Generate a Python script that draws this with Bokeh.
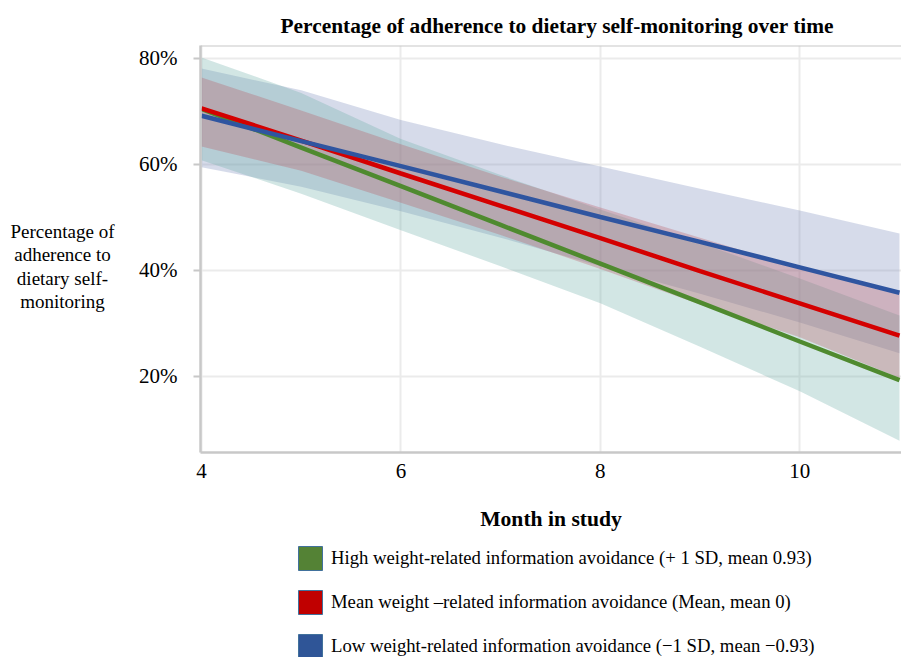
from bokeh.plotting import figure
from bokeh.layouts import column, row
from bokeh.models import (Range1d, FixedTicker, PrintfTickFormatter, Legend,
                          LegendItem, Span, Label)
from bokeh.embed import file_html
from bokeh.resources import INLINE

# ---------------- data ----------------
months = [4, 5, 6, 7, 8, 9, 10, 11]

high_mean = [70.5, 63.2, 55.9, 48.6, 41.3, 34.0, 26.6, 19.3]
high_upper = [80.2, 73.5, 64.8, 58.0, 51.5, 45.2, 38.5, 31.5]
high_lower = [60.8, 54.5, 47.6, 40.8, 33.8, 25.6, 17.2, 7.9]

mean_mean = [70.6, 64.5, 58.3, 52.2, 46.1, 39.9, 33.8, 27.7]
mean_upper = [76.4, 70.2, 63.8, 57.7, 51.9, 46.2, 40.5, 35.8]
mean_lower = [63.4, 58.8, 52.8, 46.7, 40.3, 33.6, 27.4, 19.7]

low_mean = [69.2, 64.4, 59.7, 54.9, 50.1, 45.4, 40.6, 35.8]
low_upper = [78.1, 74.0, 68.4, 63.8, 59.6, 55.4, 51.3, 47.0]
low_lower = [59.5, 55.8, 51.2, 46.2, 40.8, 35.6, 30.2, 24.4]

x_ticks = [4, 6, 8, 10]
y_ticks = [20, 40, 60, 80]

series_labels = [
    "High weight-related information avoidance (+ 1 SD, mean 0.93)",
    "Mean weight \u2013related information avoidance (Mean, mean 0)",
    "Low weight-related information avoidance (\u22121 SD, mean \u22120.93)",
]
title_text = "Percentage of adherence to dietary self-monitoring over time"
y_label_text = "Percentage of\nadherence to\ndietary self-\nmonitoring"
x_label_text = "Month in study"

# ---------------- styles ----------------
SERIF = "Liberation Serif"
green_line, red_line, blue_line = "#4f8a2f", "#d40000", "#2f55a0"
green_sq, red_sq, blue_sq = "#548235", "#c00000", "#2f5597"
green_band, red_band, blue_band = "#69aca5", "#b8525e", "#7687b9"
axis_gray = "#c8c8c8"
grid_gray = "#ebebeb"

Y_BOT, Y_TOP = 5.66, 82.45
LEFT_W = 130

# ---------------- left strip with the y label ----------------
pl = figure(width=LEFT_W, height=540, x_range=Range1d(0, LEFT_W),
            y_range=Range1d(Y_BOT, Y_TOP),
            x_axis_location=None, y_axis_location=None,
            min_border_left=0, min_border_right=0, min_border_top=45,
            min_border_bottom=88, output_backend="svg", toolbar_location=None)
pl.outline_line_color = None
pl.grid.visible = False
pl.add_layout(Label(x=62, y=40.75, text=y_label_text, text_align="center",
                    text_baseline="middle", text_font=SERIF, text_font_size="19px",
                    text_color="black", text_line_height=1.11))

# ---------------- main plot ----------------
p = figure(width=901 - LEFT_W, height=540,
           x_range=Range1d(3.99, 11.02), y_range=Range1d(Y_BOT, Y_TOP),
           output_backend="svg", toolbar_location=None,
           min_border_left=200 - LEFT_W, min_border_right=0,
           min_border_top=45, min_border_bottom=88)

p.outline_line_color = None
p.background_fill_color = "white"

# bands: blue, green, red (red on top)
p.varea(x=months, y1=low_lower, y2=low_upper, fill_color=blue_band, fill_alpha=0.3)
p.varea(x=months, y1=high_lower, y2=high_upper, fill_color=green_band, fill_alpha=0.3)
p.varea(x=months, y1=mean_lower, y2=mean_upper, fill_color=red_band, fill_alpha=0.3)

# lines
p.line(months, high_mean, line_color=green_line, line_width=4.5)
p.line(months, mean_mean, line_color=red_line, line_width=4.5)
p.line(months, low_mean, line_color=blue_line, line_width=4.5)

# top border
p.add_layout(Span(location=Y_TOP, dimension="width", line_color=axis_gray, line_width=2))

# axes
p.xaxis.ticker = FixedTicker(ticks=x_ticks)
p.yaxis.ticker = FixedTicker(ticks=y_ticks)
p.yaxis.formatter = PrintfTickFormatter(format="%d%%")
for ax in (p.xaxis, p.yaxis):
    ax.axis_line_color = axis_gray
    ax.axis_line_width = 2.5
    ax.major_label_text_font = SERIF
    ax.major_label_text_font_size = "21px"
    ax.major_label_text_color = "black"
    ax.minor_tick_line_color = None
p.xaxis.major_tick_line_color = None
p.xaxis.major_tick_out = 0
p.xaxis.major_tick_in = 0
p.xaxis.major_label_standoff = 11
p.yaxis.major_tick_line_color = axis_gray
p.yaxis.major_tick_line_width = 2
p.yaxis.major_tick_out = 7
p.yaxis.major_tick_in = 0
p.yaxis.major_label_standoff = 16

p.xaxis.axis_label = x_label_text
p.xaxis.axis_label_text_font = SERIF
p.xaxis.axis_label_text_font_size = "21.6px"
p.xaxis.axis_label_text_font_style = "bold"
p.xaxis.axis_label_text_color = "black"
p.xaxis.axis_label_standoff = 26

p.xgrid.grid_line_color = grid_gray
p.xgrid.grid_line_width = 2
p.ygrid.grid_line_color = grid_gray
p.ygrid.grid_line_width = 2

# title
p.title.text = title_text
p.title.text_font = SERIF
p.title.text_font_size = "21.4px"
p.title.text_font_style = "bold"
p.title.text_color = "black"
p.title.align = "left"
p.title.offset = 80
p.title.standoff = 16

# ---------------- legend strip ----------------
p2 = figure(width=901, height=117, x_range=Range1d(0, 1), y_range=Range1d(0, 1),
            x_axis_location=None, y_axis_location=None,
            min_border_left=200, min_border_right=0, min_border_top=0, min_border_bottom=0,
            output_backend="svg", toolbar_location=None)
p2.outline_line_color = None
p2.grid.visible = False

sq_colors = [green_sq, red_sq, blue_sq]
key_renderers = [p2.quad(left=[-2], right=[-2], top=[-2], bottom=[-2],
                         fill_color=c, line_color="#41719c", line_width=1)
                 for c in sq_colors]
legend = Legend(items=[LegendItem(label=lab, renderers=[r])
                       for lab, r in zip(series_labels, key_renderers)],
                location=(95, -4), orientation="vertical",
                glyph_width=30, glyph_height=30, spacing=14, padding=0, margin=0,
                label_standoff=6, label_text_font=SERIF, label_text_font_size="18.7px",
                label_text_color="black", border_line_color=None,
                background_fill_alpha=0)
p2.add_layout(legend, "center")

layout = column(row(pl, p, spacing=0), p2, spacing=0)
open("out.html", "w").write(file_html(layout, INLINE))
